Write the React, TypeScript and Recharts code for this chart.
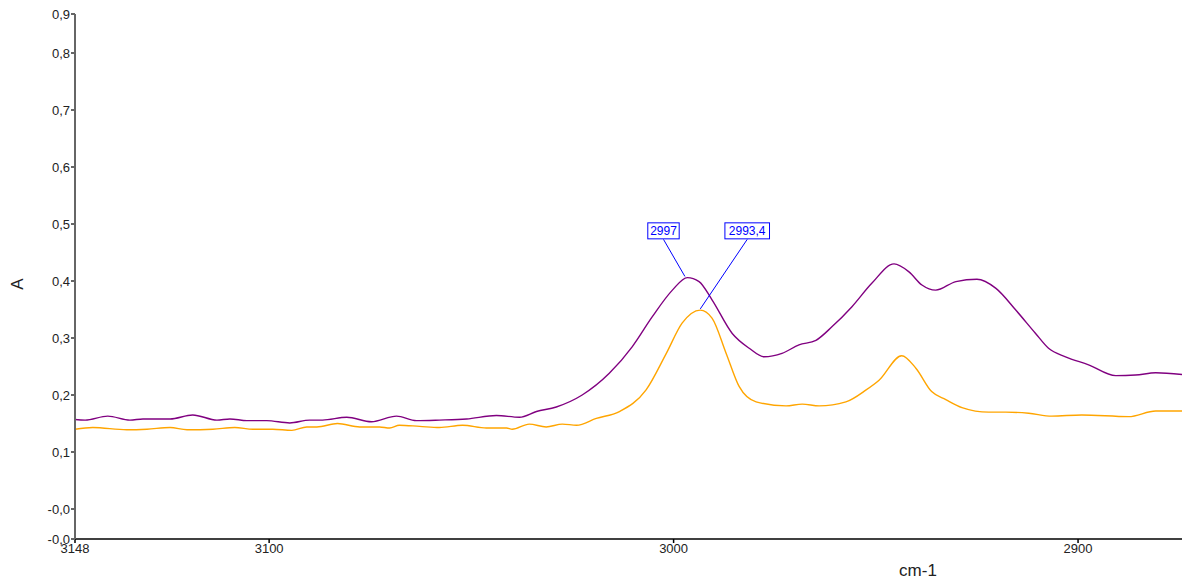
import { Label, Line, LineChart, ReferenceDot, ReferenceLine, XAxis, YAxis } from "recharts";

// wavenumbers (cm-1) and absorbance of the two spectra
const purpleWn = [
  3148, 3145.5, 3139.9, 3134.4, 3131.2, 3124.5, 3118.9, 3112.9, 3109.7, 3105.5, 3100.6, 3094.9,
  3090.0, 3086.8, 3080.8, 3074.7, 3068.5, 3063.6, 3057.9, 3051.2, 3043.8, 3038.1, 3033.9, 3029.0,
  3022.6, 3015.9, 3010.2, 3005.3, 3000.3, 2996.6, 2993.7, 2990.5, 2985.5, 2981.3, 2977.6, 2973.2,
  2969.0, 2964.8, 2960.8, 2955.9, 2951.0, 2945.5, 2941.8, 2938.6, 2935.2, 2930.2, 2925.0, 2920.3,
  2915.4, 2910.5, 2907.3, 2903.1, 2897.4, 2890.7, 2885.8, 2880.8, 2874.3,
];
const purpleAbs = [
  0.157, 0.156, 0.163, 0.156, 0.158, 0.158, 0.165, 0.156, 0.158, 0.155, 0.155, 0.151,
  0.156, 0.156, 0.161, 0.153, 0.163, 0.155, 0.156, 0.158, 0.164, 0.161, 0.171, 0.179,
  0.2, 0.238, 0.285, 0.337, 0.384, 0.406, 0.399, 0.367, 0.308, 0.282, 0.267, 0.273,
  0.288, 0.296, 0.32, 0.355, 0.396, 0.43, 0.416, 0.393, 0.384, 0.399, 0.403, 0.387,
  0.349, 0.308, 0.282, 0.267, 0.253, 0.234, 0.235, 0.239, 0.236,
];

const orangeWn = [
  3148, 3143.6, 3135.2, 3130.2, 3124.5, 3120.3, 3113.9, 3108.5, 3104.0, 3099.1, 3094.4, 3090.7,
  3088.2, 3083.1, 3077.6, 3072.7, 3070.2, 3067.8, 3062.8, 3057.9, 3052.2, 3046.3, 3041.3, 3039.9,
  3035.7, 3031.5, 3027.5, 3024.0, 3019.1, 3013.4, 3006.8, 3001.8, 2997.9, 2993.4, 2990.5, 2987.0,
  2983.8, 2979.6, 2972.2, 2968.2, 2964.0, 2957.4, 2952.4, 2949.2, 2943.6, 2940.1, 2936.2, 2932.7,
  2928.7, 2922.1, 2917.9, 2912.2, 2906.5, 2899.1, 2887.5, 2880.8, 2874.3,
];
const orangeAbs = [
  0.14, 0.143, 0.139, 0.14, 0.143, 0.139, 0.14, 0.143, 0.14, 0.14, 0.138, 0.144,
  0.144, 0.15, 0.144, 0.144, 0.142, 0.147, 0.145, 0.143, 0.147, 0.142, 0.142, 0.14,
  0.149, 0.144, 0.149, 0.147, 0.159, 0.171, 0.209, 0.273, 0.326, 0.349, 0.335, 0.273,
  0.215, 0.188, 0.181, 0.184, 0.181, 0.188, 0.209, 0.226, 0.269, 0.247, 0.206, 0.192,
  0.178, 0.17, 0.17, 0.168, 0.163, 0.165, 0.162, 0.172, 0.172,
];

// peak annotations: peak point, label box position, text
const peakWn = [2997.2, 2993.4];
const peakAbs = [0.408, 0.351];
const peakBoxWn = [3002.5, 2981.8];
const peakBoxAbs = [0.488, 0.488];
const peakText = ["2997", "2993,4"];

const xTicks = [3148, 3100, 3000, 2900];
const yTicks = [-0.0526, 0, 0.1, 0.2, 0.3, 0.4, 0.5, 0.6, 0.7, 0.8, 0.8684];
const yTickLabels = ["-0,0", "-0,0", "0,1", "0,2", "0,3", "0,4", "0,5", "0,6", "0,7", "0,8", "0,9"];

const purpleData = purpleWn.map((wn, i) => ({ wn, a: purpleAbs[i] }));
const orangeData = orangeWn.map((wn, i) => ({ wn, a: orangeAbs[i] }));

const FONT = "'Liberation Sans', Arial, sans-serif";
const BLUE = "#0000ff";

const PeakBox = ({ cx, cy, text }: any) => {
  const w = text.length * 6.6 + 5;
  return (
    <g>
      <rect x={cx - w / 2} y={cy - 8} width={w} height={16} fill="#fff" stroke={BLUE} strokeWidth={1} />
      <text x={cx} y={cy + 4.5} textAnchor="middle" fontSize={12} fontFamily={FONT} fill={BLUE}>
        {text}
      </text>
    </g>
  );
};

export default function App() {
  return (
    <div style={{ position: "absolute", left: 0, top: 0, background: "#fff" }}>
      <LineChart width={1187} height={580} margin={{ top: 14, right: 5, bottom: 0, left: 0 }}>
        <XAxis
          dataKey="wn"
          type="number"
          domain={[2874.3, 3148]}
          reversed
          allowDataOverflow
          ticks={xTicks}
          interval={0}
          height={41}
          stroke="#000"
          strokeWidth={1.5}
          tickSize={4}
          tickMargin={1}
          tick={{ fontSize: 13, fontFamily: FONT, fill: "#222" }}
        >
          <Label
            content={() => (
              <text x={918} y={576} textAnchor="middle" fontSize={17} fontFamily={FONT} fill="#222">
                cm-1
              </text>
            )}
          />
        </XAxis>
        <YAxis
          type="number"
          domain={[-0.0526, 0.8684]}
          allowDataOverflow
          ticks={yTicks}
          interval={0}
          width={75}
          stroke="#666"
          strokeWidth={2}
          tickSize={4}
          tickMargin={1}
          tickFormatter={(v: number) => yTickLabels[yTicks.indexOf(v)] ?? ""}
          tick={{ fontSize: 13, fontFamily: FONT, fill: "#222" }}
        >
          <Label
            content={() => (
              <text
                x={23}
                y={284}
                textAnchor="middle"
                fontSize={17}
                fontFamily={FONT}
                fill="#222"
                transform="rotate(-90 23 284)"
              >
                A
              </text>
            )}
          />
        </YAxis>
        <Line
          data={purpleData}
          dataKey="a"
          type="monotone"
          stroke="#800080"
          strokeWidth={1.4}
          dot={false}
          isAnimationActive={false}
        />
        <Line
          data={orangeData}
          dataKey="a"
          type="monotone"
          stroke="#ffa500"
          strokeWidth={1.4}
          dot={false}
          isAnimationActive={false}
        />
        {peakWn.map((wn, i) => (
          <ReferenceLine
            key={`pl-${i}`}
            segment={[
              { x: peakBoxWn[i], y: peakBoxAbs[i] - 0.015 },
              { x: wn, y: peakAbs[i] },
            ]}
            stroke={BLUE}
            strokeWidth={1}
          />
        ))}
        {peakWn.map((_, i) => (
          <ReferenceDot
            key={`pb-${i}`}
            x={peakBoxWn[i]}
            y={peakBoxAbs[i]}
            shape={(p: any) => <PeakBox cx={p.cx} cy={p.cy} text={peakText[i]} />}
          />
        ))}
      </LineChart>
    </div>
  );
}
